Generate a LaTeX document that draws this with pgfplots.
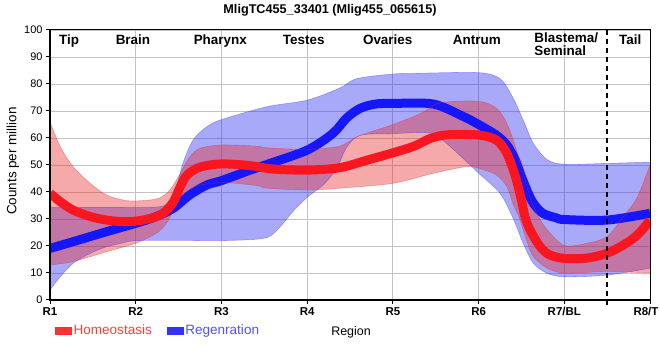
\documentclass[border=0pt]{standalone}
\usepackage{pgfplots}
\pgfplotsset{compat=1.18}
\usepgfplotslibrary{fillbetween}
\usepackage{fontspec}
\setmainfont{Liberation Sans}
\definecolor{hline}{RGB}{250,22,32}
\definecolor{rline}{RGB}{22,22,250}
\definecolor{hband}{RGB}{230,40,40}
\definecolor{rband}{RGB}{40,40,240}
\definecolor{htxt}{RGB}{255,60,60}
\definecolor{rtxt}{RGB}{80,80,255}
\definecolor{hleg}{RGB}{255,50,50}
\definecolor{rleg}{RGB}{50,50,255}
\definecolor{gridc}{RGB}{195,195,195}
\begin{document}
\begin{tikzpicture}
\begin{axis}[
  at={(50bp,60bp)}, anchor=south west,
  scale only axis, width=600bp, height=270bp,
  xmin=1, xmax=8, ymin=0, ymax=100,
  clip mode=individual,
  xtick={1,2,3,4,5,6,7,8},
  xticklabels={R1,R2,R3,R4,R5,R6,R7/BL,{\hspace*{-8bp}R8/T}},
  ytick={0,10,20,30,40,50,60,70,80,90,100},
  grid=major, major grid style={gridc, line width=0.9bp},
  axis line style={black, line width=1bp},
  tick align=outside, xtick pos=bottom, ytick pos=left,
  major tick length=4bp, tick style={black, line width=1bp},
  xticklabel style={font=\fontsize{11.5}{12}\selectfont\bfseries},
  yticklabel style={font=\fontsize{11}{12}\selectfont},
  /pgf/number format/assume math mode=true,
  xlabel={Region},
  xlabel style={at={(axis description cs:0.5017,-0.1333)}, anchor=base, font=\fontsize{12.5}{14}\selectfont},
  ylabel={Counts per million},
  ylabel style={at={(axis description cs:-0.0617,0.5148)}, anchor=center, font=\fontsize{13.5}{14}\selectfont},
  legend columns=2,
  legend style={at={(axis description cs:0.0083,-0.1137)}, anchor=west, draw=none, fill=none,
    inner sep=0pt, font=\fontsize{13.6}{14}\selectfont,
    /tikz/every even column/.append style={column sep=13bp}},
  legend cell align=left,
]
% ---------------- Regeneration band ----------------
\addplot[name path=ru, forget plot, smooth, draw=rband, draw opacity=0.35, line width=0.6bp] coordinates {
(1,34.3) (2,34.3) (2.32,34.8) (2.44,38.3) (2.55,50.6) (2.67,59.3) (2.83,64.2) (3,66.8) (3.53,71.6) (4,74) (4.38,78.5) (4.58,82) (5,83.7) (5.32,84) (6,84.2) (6.25,82) (6.4,75) (6.52,66.7) (6.64,58) (6.8,52) (7,50.3) (7.5,50.6) (8,51.1)};
\addplot[name path=rl, forget plot, smooth, draw=rband, draw opacity=0.35, line width=0.6bp] coordinates {
(1,3.7) (1.12,8.6) (1.27,13.6) (1.47,17.3) (1.66,19.7) (1.86,21.2) (2,22) (2.5,22.1) (3,22) (3.49,22.8) (3.65,25.9) (3.84,33) (4,38) (4.2,43) (4.35,49) (4.46,56.5) (4.62,61) (5,61.6) (5.4,62) (5.55,60) (5.8,53) (6,47) (6.25,39.5) (6.4,30.5) (6.52,21) (6.64,13.6) (6.8,9.9) (7,8.6) (7.5,9.2) (8,11.8)};
\addplot[rband, fill opacity=0.4, draw=none, forget plot] fill between[of=ru and rl];
\addplot[forget plot, smooth, rline, line width=9bp] coordinates {
(1,19.1) (1.27,21.6) (1.66,25.3) (2,28.4) (2.24,30.9) (2.44,34) (2.63,38.9) (2.83,42.6) (3,44.2) (3.37,48.5) (3.53,50.2) (4,55.5) (4.3,61.7) (4.46,67.4) (4.62,71) (4.8,72.6) (5,72.8) (5.47,72.6) (5.82,68) (6,65) (6.21,61) (6.33,57.4) (6.43,51.8) (6.5,45.7) (6.58,39.5) (6.64,35.8) (6.75,32.1) (6.91,30.4) (7,29.8) (7.5,29.6) (8,32.1)};
% ---------------- Homeostasis band ----------------
\addplot[name path=hu, forget plot, smooth, draw=hband, draw opacity=0.35, line width=0.6bp] coordinates {
(1,66) (1.12,56.8) (1.27,49.4) (1.47,43.2) (1.66,38.9) (1.86,37) (2,36.7) (2.24,37.4) (2.36,39.5) (2.44,42.6) (2.52,46.9) (2.63,53) (2.75,56.2) (3,57.4) (3.41,57) (3.53,56.4) (4,55.8) (4.38,57) (4.6,60.7) (5,65) (5.32,69) (5.55,73) (6,73.6) (6.21,71) (6.33,65.4) (6.43,56.8) (6.52,47) (6.6,38.3) (6.68,32) (6.8,26) (7,20.2) (7.26,21) (7.5,23.5) (7.69,30.9) (7.85,38) (8,50)};
\addplot[name path=hl, forget plot, smooth, draw=hband, draw opacity=0.35, line width=0.6bp] coordinates {
(1,13) (1.27,14.2) (1.66,17.9) (2,21) (2.24,24.7) (2.36,28.4) (2.44,33.3) (2.55,38.9) (2.71,42.2) (3,43.5) (3.41,42.4) (3.53,41.4) (4,40.7) (4.38,41.4) (5,43.2) (5.47,46.9) (5.86,49.4) (6,48.8) (6.21,46.3) (6.33,42) (6.4,35.8) (6.48,30) (6.56,22) (6.64,16) (6.8,11.8) (7,10) (7.5,10.5) (8,10)};
\addplot[hband, fill opacity=0.4, draw=none, forget plot] fill between[of=hu and hl];
\addplot[forget plot, smooth, hline, line width=9bp] coordinates {
(1,39.5) (1.12,36.4) (1.27,33.3) (1.47,30.9) (1.66,29.6) (1.86,29) (2,29.2) (2.17,30.2) (2.32,32.1) (2.44,36.4) (2.52,42) (2.6,46.3) (2.75,49.2) (3,50.4) (3.33,49.8) (3.6,48.5) (4,48.1) (4.38,49) (4.7,51.8) (5,54.5) (5.25,57) (5.45,60) (5.65,61.2) (6,61.1) (6.21,59.2) (6.33,54.3) (6.43,45.7) (6.5,37) (6.54,31) (6.6,26) (6.72,19.7) (6.83,16.7) (7,15.4) (7.26,15.5) (7.5,17.3) (7.69,20.4) (7.85,24) (8,29.5)};
% ---------------- dashed separator ----------------
\draw[black, line width=2.2bp, dash pattern=on 5bp off 4bp] (axis cs:7.5,100) -- (axis cs:7.5,-2);
% ---------------- heavier left/bottom axis ----------------
\draw[black, line width=2.4bp] (rel axis cs:0,1) -- (rel axis cs:0,0) -- (rel axis cs:1,0);
% ---------------- region names ----------------
\begin{scope}[every node/.style={font=\fontsize{13.5}{14}\selectfont\bfseries, inner sep=0pt}]
\node[anchor=base] at (axis cs:1.224,94.7) {Tip};
\node[anchor=base] at (axis cs:1.968,94.7) {Brain};
\node[anchor=base] at (axis cs:2.987,94.7) {Pharynx};
\node[anchor=base] at (axis cs:3.96,94.7) {Testes};
\node[anchor=base] at (axis cs:4.94,94.7) {Ovaries};
\node[anchor=base] at (axis cs:5.98,94.7) {Antrum};
\node[anchor=north west, align=left] at (axis cs:6.65,99) {Blastema/\\[-1.5bp]Seminal};
\node[anchor=base] at (axis cs:7.77,94.7) {Tail};
\end{scope}
% ---------------- legend ----------------
\addlegendimage{legend image code/.code={\fill[hleg] (0bp,-3.4bp) rectangle (16bp,3.4bp);}}
\addlegendentry{\textcolor{htxt}{Homeostasis}}
\addlegendimage{legend image code/.code={\fill[rleg] (0bp,-3.4bp) rectangle (16bp,3.4bp);}}
\addlegendentry{\textcolor{rtxt}{Regenration}}
\end{axis}
\node[anchor=base, inner sep=0pt, font=\fontsize{12.7}{14}\selectfont\bfseries] at (330bp,346.5bp) {MligTC455\_33401 (Mlig455\_065615)};
\pgfresetboundingbox
\path[use as bounding box] (0,0) rectangle (660bp,360bp);
\end{tikzpicture}
\end{document}
